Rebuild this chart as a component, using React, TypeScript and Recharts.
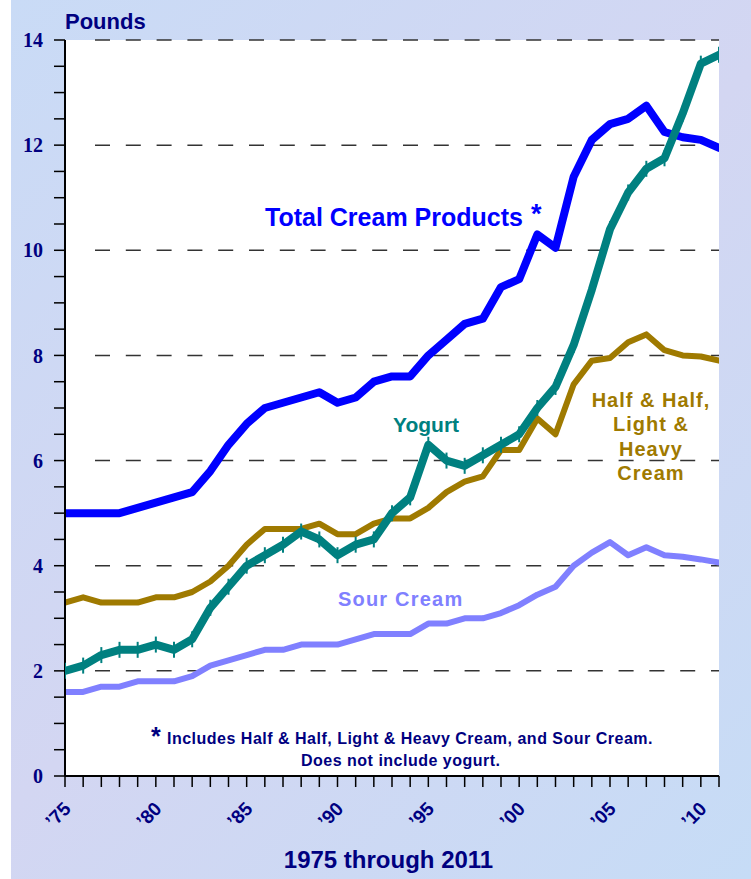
import React from "react";
import { LineChart, Line, XAxis, YAxis, CartesianGrid } from "recharts";

const years = [1975, 1976, 1977, 1978, 1979, 1980, 1981, 1982, 1983, 1984, 1985, 1986, 1987, 1988, 1989, 1990, 1991, 1992, 1993, 1994, 1995, 1996, 1997, 1998, 1999, 2000, 2001, 2002, 2003, 2004, 2005, 2006, 2007, 2008, 2009, 2010, 2011];

const totalCream = [5.0, 5.0, 5.0, 5.0, 5.1, 5.2, 5.3, 5.4, 5.8, 6.3, 6.7, 7.0, 7.1, 7.2, 7.3, 7.1, 7.2, 7.5, 7.6, 7.6, 8.0, 8.3, 8.6, 8.7, 9.3, 9.45, 10.3, 10.05, 11.4, 12.1, 12.4, 12.5, 12.75, 12.25, 12.15, 12.1, 11.95];
const halfAndHalf = [3.3, 3.4, 3.3, 3.3, 3.3, 3.4, 3.4, 3.5, 3.7, 4.0, 4.4, 4.7, 4.7, 4.7, 4.8, 4.6, 4.6, 4.8, 4.9, 4.9, 5.1, 5.4, 5.6, 5.7, 6.2, 6.2, 6.8, 6.5, 7.45, 7.9, 7.95, 8.25, 8.4, 8.1, 8.0, 7.98, 7.9];
const yogurt = [2.0, 2.1, 2.3, 2.4, 2.4, 2.5, 2.4, 2.6, 3.2, 3.6, 4.0, 4.2, 4.4, 4.65, 4.5, 4.2, 4.4, 4.5, 5.0, 5.3, 6.3, 6.0, 5.9, 6.1, 6.3, 6.5, 7.0, 7.4, 8.2, 9.25, 10.4, 11.1, 11.55, 11.75, 12.6, 13.55, 13.72];
const sourCream = [1.6, 1.6, 1.7, 1.7, 1.8, 1.8, 1.8, 1.9, 2.1, 2.2, 2.3, 2.4, 2.4, 2.5, 2.5, 2.5, 2.6, 2.7, 2.7, 2.7, 2.9, 2.9, 3.0, 3.0, 3.1, 3.25, 3.45, 3.6, 4.0, 4.25, 4.45, 4.2, 4.35, 4.2, 4.17, 4.12, 4.06];

const xLabelYears = [1975, 1980, 1985, 1990, 1995, 2000, 2005, 2010];
const xLabels = ["\u201975", "\u201980", "\u201985", "\u201990", "\u201995", "\u201900", "\u201905", "\u201910"];
const yTicks = [0, 0.5, 1, 1.5, 2, 2.5, 3, 3.5, 4, 4.5, 5, 5.5, 6, 6.5, 7, 7.5, 8, 8.5, 9, 9.5, 10, 10.5, 11, 11.5, 12, 12.5, 13, 13.5, 14];
const gridValues = [2, 4, 6, 8, 10, 12, 14];

const data = years.map((y, i) => ({
  year: y,
  total: totalCream[i],
  half: halfAndHalf[i],
  yogurt: yogurt[i],
  sour: sourCream[i],
}));

const NAVY = "#000080";
const BLUE = "#0000FF";
const TEAL = "#008080";
const GOLD = "#9F7A00";
const SOUR = "#8080FF";
const SANS = "Arial, 'Liberation Sans', sans-serif";
const SERIF = "'Times New Roman', 'Liberation Serif', serif";

const dash = ["0 30", ...Array(22).fill("15 15.8")].join(" ");

const XTick = (props: any) => {
  const { x, y, payload } = props;
  const i = xLabelYears.indexOf(payload.value);
  if (i < 0) return <g />;
  const ax = x + 7;
  const ay = y + 23;
  return (
    <text
      x={ax}
      y={ay}
      transform={`rotate(-45, ${ax}, ${ay})`}
      textAnchor="end"
      fill={NAVY}
      fontSize={19}
      fontWeight="bold"
      fontFamily={SANS}
    >
      {xLabels[i]}
    </text>
  );
};

const YogurtDot = (props: any) => {
  const { cx, cy, index } = props;
  return (
    <line
      key={`yd${index}`}
      x1={cx}
      x2={cx}
      y1={cy - 8}
      y2={cy + 8}
      stroke={TEAL}
      strokeWidth={2}
    />
  );
};

export default function App() {
  return (
    <div
      style={{
        position: "absolute",
        left: 0,
        top: 0,
        width: 751,
        height: 879,
        background: "#FFFFFF",
        overflow: "hidden",
      }}
    >
      <div
        style={{
          position: "absolute",
          left: 11,
          top: 0,
          width: 740,
          height: 879,
          background: "linear-gradient(135deg, #C9DBF6 0%, #D3D6F2 50%, #C6DCF6 100%)",
        }}
      />
      <div style={{ position: "absolute", left: 0, top: 0 }}>
        <LineChart
          width={751}
          height={879}
          data={data}
          margin={{ top: 40, right: 32, left: 10, bottom: 43 }}
        >
          <CartesianGrid
            fill="#FFFFFF"
            vertical={false}
            horizontalValues={gridValues}
            stroke="#333"
            strokeWidth={1.5}
            strokeDasharray={dash}
          />
          <XAxis
            dataKey="year"
            type="number"
            domain={[1975, 2011]}
            ticks={years}
            interval={0}
            height={60}
            tickSize={11}
            tickMargin={0}
            axisLine={{ stroke: "#000", strokeWidth: 2 }}
            tickLine={{ stroke: "#000", strokeWidth: 1.5 }}
            tick={<XTick />}
            allowDataOverflow
          />
          <YAxis
            type="number"
            domain={[0, 14]}
            ticks={yTicks}
            interval={0}
            width={55}
            tickSize={11}
            tickMargin={11}
            axisLine={{ stroke: "#000", strokeWidth: 2 }}
            tickLine={{ stroke: "#000", strokeWidth: 1.5 }}
            tickFormatter={(v: number) => (v % 2 === 0 ? String(v) : "")}
            tick={{ fill: NAVY, fontSize: 20, fontWeight: "bold", fontFamily: SERIF }}
            allowDataOverflow
          />
          <Line
            dataKey="sour"
            stroke={SOUR}
            strokeWidth={6}
            dot={false}
            activeDot={false}
            strokeLinejoin="round"
            strokeLinecap="round"
            isAnimationActive={false}
          />
          <Line
            dataKey="half"
            stroke={GOLD}
            strokeWidth={6}
            dot={false}
            activeDot={false}
            strokeLinejoin="round"
            strokeLinecap="round"
            isAnimationActive={false}
          />
          <Line
            dataKey="total"
            stroke={BLUE}
            strokeWidth={8}
            dot={false}
            activeDot={false}
            strokeLinejoin="round"
            strokeLinecap="round"
            isAnimationActive={false}
          />
          <Line
            dataKey="yogurt"
            stroke={TEAL}
            strokeWidth={8}
            dot={YogurtDot}
            activeDot={false}
            strokeLinejoin="round"
            strokeLinecap="round"
            isAnimationActive={false}
          />
        </LineChart>
      </div>
      <svg
        width={751}
        height={879}
        style={{ position: "absolute", left: 0, top: 0, pointerEvents: "none" }}
      >
        <text x={65} y={29} fill={NAVY} fontSize={22} fontWeight="bold" fontFamily={SANS}>
          Pounds
        </text>
        <text x={265} y={226} fill={BLUE} fontSize={25} fontWeight="bold" fontFamily={SANS}>
          Total Cream Products
        </text>
        <text x={531} y={223} fill={BLUE} fontSize={27} fontWeight="bold" fontFamily={SANS}>
          *
        </text>
        <text x={393} y={432} fill={TEAL} fontSize={21} fontWeight="bold" fontFamily={SANS}>
          Yogurt
        </text>
        <g fill={GOLD} fontSize={20} fontWeight="bold" fontFamily={SANS} textAnchor="middle" letterSpacing={1}>
          <text x={651} y={407}>Half &amp; Half,</text>
          <text x={651} y={431}>Light &amp;</text>
          <text x={651} y={456}>Heavy</text>
          <text x={651} y={480}>Cream</text>
        </g>
        <text x={338} y={606} fill={SOUR} fontSize={20} fontWeight="bold" fontFamily={SANS} letterSpacing={1.2}>
          Sour Cream
        </text>
        <text x={151} y={745} fill={NAVY} fontSize={25} fontWeight="bold" fontFamily={SANS}>
          *
        </text>
        <text x={167} y={744} fill={NAVY} fontSize={16} fontWeight="bold" fontFamily={SANS} letterSpacing={0.5}>
          Includes Half &amp; Half, Light &amp; Heavy Cream, and Sour Cream.
        </text>
        <text x={301} y={766} fill={NAVY} fontSize={16} fontWeight="bold" fontFamily={SANS} letterSpacing={0.5}>
          Does not include yogurt.
        </text>
        <text x={388.5} y={868} fill={NAVY} fontSize={24} fontWeight="bold" fontFamily={SANS} textAnchor="middle">
          1975 through 2011
        </text>
      </svg>
    </div>
  );
}
